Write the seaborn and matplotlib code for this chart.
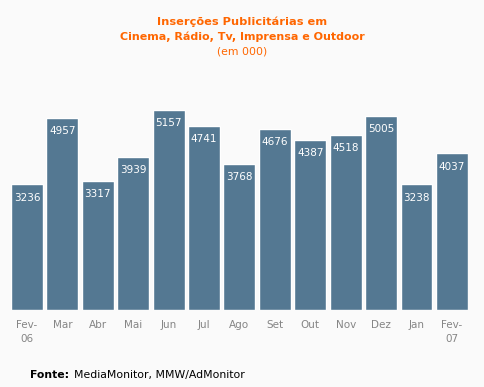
import matplotlib
matplotlib.use("Agg")
import matplotlib.pyplot as plt
import pandas
import seaborn as sns

months = ["Fev-\n06", "Mar", "Abr", "Mai", "Jun", "Jul", "Ago", "Set",
          "Out", "Nov", "Dez", "Jan", "Fev-\n07"]
insercoes = [3236, 4957, 3317, 3939, 5157, 4741, 3768, 4676,
             4387, 4518, 5005, 3238, 4037]

BG = "#fafafa"
BAR = "#547892"
ORANGE = "#ff6600"

sns.set_style("white")
plt.rcParams["font.family"] = ["DejaVu Sans"]

df = pandas.DataFrame({"mes": months, "valor": insercoes})

fig = plt.figure(figsize=(4.84, 3.87), dpi=100, facecolor=BG)
ax = fig.add_axes([0.0227, 0.199, 0.944, 0.646], facecolor=BG)

sns.barplot(data=df, x="mes", y="valor", color=BAR, saturation=1,
            width=0.9, ax=ax)

for i, v in enumerate(insercoes):
    ax.text(i, v - 340, str(v), ha="center", va="center",
            color="white", fontsize=7.5)

ax.set_xlim(-0.45, 12.45)
ax.set_ylim(0, 6443)
ax.set_xlabel("")
ax.set_ylabel("")
ax.set_yticks([])
ax.tick_params(axis="x", length=0, pad=7, labelsize=7.5, labelcolor="#858585")
for lbl in ax.get_xticklabels():
    lbl.set_linespacing(1.5)
for s in ax.spines.values():
    s.set_visible(False)

fig.text(0.5, 1 - 22 / 387, "Inserções Publicitárias em", ha="center",
         va="center", color=ORANGE, fontsize=8.2, fontweight="bold")
fig.text(0.5, 1 - 37 / 387, "Cinema, Rádio, Tv, Imprensa e Outdoor",
         ha="center", va="center", color=ORANGE, fontsize=8.0, fontweight="bold")
fig.text(0.5, 1 - 52 / 387, "(em 000)", ha="center", va="center",
         color=ORANGE, fontsize=7.8)

fig.text(30 / 484, 1 - 375 / 387, "Fonte:", ha="left", va="center",
         color="black", fontsize=7.8, fontweight="bold")
fig.text(74 / 484, 1 - 375 / 387, "MediaMonitor, MMW/AdMonitor", ha="left",
         va="center", color="black", fontsize=7.8)

fig.savefig("out.png", dpi=100, facecolor=BG)
